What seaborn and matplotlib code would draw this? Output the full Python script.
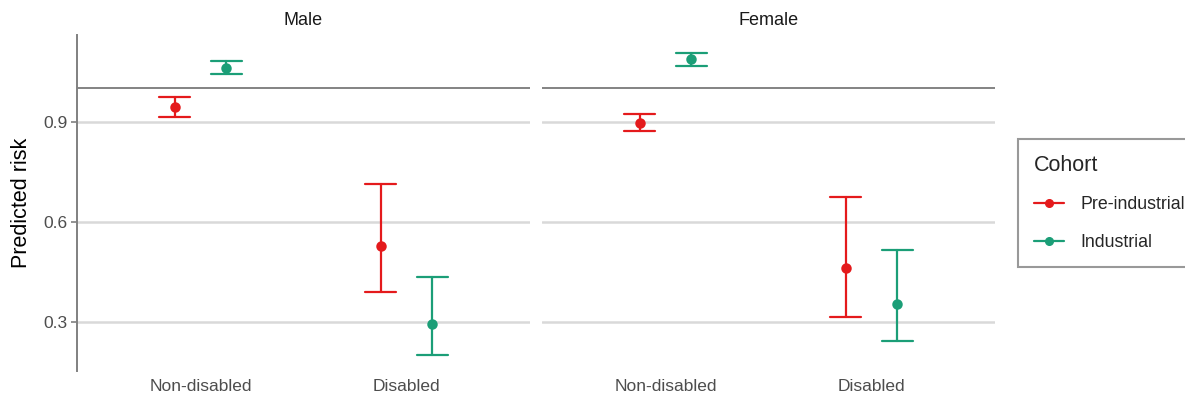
import numpy as np
import pandas as pd
import seaborn as sns
import matplotlib
matplotlib.use("Agg")
import matplotlib.pyplot as plt
from matplotlib.lines import Line2D

# Predicted risk with 95% confidence bounds, by sex, disability status and cohort
sexes = ["Male", "Female"]
status = ["Non-disabled", "Disabled"]
cohorts = ["Pre-industrial", "Industrial"]

# order: (Non-disabled, Pre), (Non-disabled, Ind), (Disabled, Pre), (Disabled, Ind)
male_est = [0.945, 1.060, 0.528, 0.293]
male_lo = [0.915, 1.043, 0.390, 0.201]
male_hi = [0.975, 1.082, 0.713, 0.433]

female_est = [0.897, 1.087, 0.460, 0.353]
female_lo = [0.872, 1.068, 0.315, 0.243]
female_hi = [0.923, 1.106, 0.675, 0.515]

y_ticks = [0.3, 0.6, 0.9]
reference_line = 1.0

palette = {"Pre-industrial": "#E41A1C", "Industrial": "#1B9E77"}

rows = []
for sex, est, lo, hi in [("Male", male_est, male_lo, male_hi),
                         ("Female", female_est, female_lo, female_hi)]:
    i = 0
    for st in status:
        for co in cohorts:
            for v in (lo[i], est[i], hi[i]):
                rows.append({"Sex": sex, "Status": st, "Cohort": co, "Risk": v})
            i += 1
df = pd.DataFrame(rows)

sns.set_theme(style="white")
plt.rcParams["font.family"] = ["Liberation Sans", "DejaVu Sans"]

W, H = 1185, 398
fig = plt.figure(figsize=(W / 100, H / 100), dpi=100)
ax_l = fig.add_axes([77 / W, (H - 371) / H, 453 / W, 336 / H])
ax_r = fig.add_axes([542 / W, (H - 371) / H, 453 / W, 336 / H], sharey=ax_l)

for ax, sex in [(ax_l, "Male"), (ax_r, "Female")]:
    sub = df[df["Sex"] == sex]
    ax.axhline(reference_line, color="#7a7a7a", lw=1.3, zorder=1)
    sns.pointplot(data=sub, x="Status", y="Risk", hue="Cohort",
                  order=status, hue_order=cohorts, palette=palette,
                  estimator="median", errorbar=lambda v: (v.min(), v.max()),
                  dodge=0.25, linestyle="none", capsize=0.15,
                  markersize=5.5, err_kws={"linewidth": 1.6},
                  legend=False, ax=ax, zorder=3)
    ax.set_xlim(-0.6, 1.6)
    ax.set_ylim(0.1525, 1.16)
    ax.set_yticks(y_ticks)
    ax.set_yticklabels([f"{t:.1f}" for t in y_ticks])
    ax.grid(axis="y", color="#d9d9d9", lw=1.8, zorder=0)
    ax.grid(axis="x", visible=False)
    ax.set_axisbelow(True)
    for s in ax.spines.values():
        s.set_visible(False)
    ax.set_xlabel("")
    ax.set_ylabel("")
    ax.tick_params(axis="x", length=0, pad=6, labelsize=12.5, labelcolor="#4d4d4d")
    ax.set_title(sex, fontsize=13, color="#1a1a1a", pad=7)

ax_l.spines["left"].set_visible(True)
ax_l.spines["left"].set_color("#808080")
ax_l.spines["left"].set_linewidth(1.4)
ax_l.tick_params(axis="y", left=True, length=4, width=1.2, color="#808080",
                 pad=3, labelsize=12.5, labelcolor="#4d4d4d")
ax_l.set_ylabel("Predicted risk", fontsize=15.5, color="black", labelpad=8)
ax_r.tick_params(axis="y", left=False, labelleft=False)

handles = [Line2D([0], [0], color=palette[c], lw=1.6, marker="o", markersize=5.5)
           for c in cohorts]
leg = fig.legend(handles, cohorts, title="Cohort", loc="upper left",
                 bbox_to_anchor=(1018 / W, 1 - 139 / H), fontsize=12.8,
                 title_fontsize=15.5, frameon=True, fancybox=False,
                 handlelength=1.7, handletextpad=0.9, labelspacing=1.15,
                 borderpad=0.9, borderaxespad=0)
leg._legend_box.align = "left"
leg.get_frame().set_edgecolor("#808080")
leg.get_frame().set_linewidth(1.5)

fig.savefig("out.png", dpi=100)
